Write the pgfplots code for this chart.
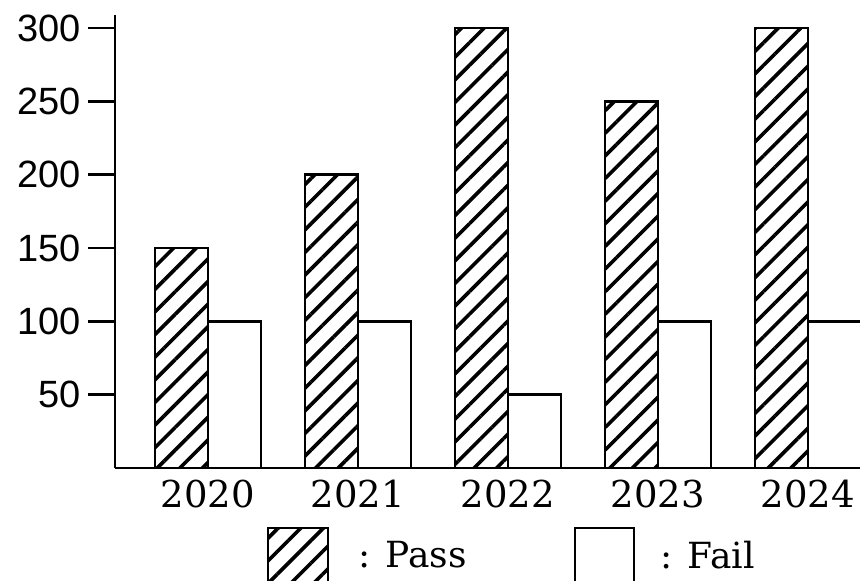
\documentclass[border=0pt]{standalone}
\usepackage{fontspec}
\setmainfont{DejaVu Serif}
\newfontfamily\ysans{Liberation Sans}
\usepackage{pgfplots}
\pgfplotsset{compat=1.18}
\usetikzlibrary{patterns.meta}

\begin{document}
\begin{tikzpicture}
\begin{axis}[
  scale only axis, width=372.5pt, height=226.5pt,
  xmin=-0.62, xmax=4.347, ymin=0, ymax=309,
  axis lines*=left, axis line style={line width=1.3pt},
  ybar=0pt, bar width=26.5pt,
  xtick=data, xticklabels={2020,2021,2022,2023,2024},
  xtick style={draw=none},
  xticklabel style={font=\fontsize{18.5}{20}\selectfont, yshift=11pt},
  ytick={50,100,150,200,250,300}, yticklabels={50,100,150,200,250,300},
  ytick style={line width=1.3pt, black},
  major tick length=13.5pt, tick align=outside,
  yticklabel style={font=\ysans\fontsize{19}{20}\selectfont},
]
% pass (hatched)
\addplot[draw=black, line width=1.3pt,
  pattern={Lines[angle=45,distance=8pt,line width=1.8pt]}]
  coordinates {(0,150) (1,200) (2,300) (3,250) (4,300)};
% fail (white)
\addplot[draw=black, line width=1.3pt, fill=white]
  coordinates {(0,100) (1,100) (2,50) (3,100) (4,100)};
\end{axis}

% legend
\draw[line width=1.3pt, pattern={Lines[angle=45,distance=8pt,line width=1.8pt]}]
  (76.5pt,-58pt) rectangle (106.5pt,-30pt);
\node[anchor=west, font=\fontsize{18}{20}\selectfont, inner sep=0pt] at (121.5pt,-43.5pt) {: Pass};
\draw[line width=1.3pt, fill=white] (230pt,-58pt) rectangle (259.5pt,-30pt);
\node[anchor=west, font=\fontsize{18}{20}\selectfont, inner sep=0pt] at (272.5pt,-43.5pt) {: Fail};

\pgfresetboundingbox
\useasboundingbox (-57.5pt,-56pt) rectangle (372.5pt,234pt);
\end{tikzpicture}
\end{document}
